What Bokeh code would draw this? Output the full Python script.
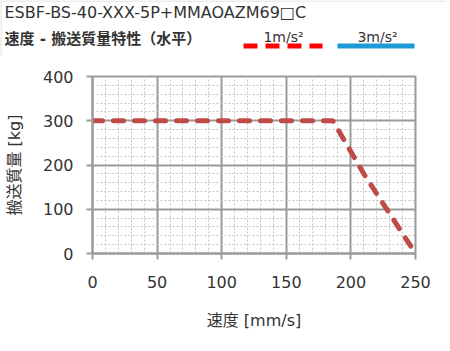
from bokeh.plotting import figure
from bokeh.layouts import column
from bokeh.models import Range1d, SingleIntervalTicker
from bokeh.core.properties import value
from bokeh.embed import file_html
from bokeh.resources import INLINE

speed = [0, 186, 210, 250]
mass_1 = [300, 300, 180, 0]

model = "ESBF-BS-40-XXX-5P+MMAOAZM69□C"
subtitle = "速度 - 搬送質量特性（水平）"
legend_1 = "1m/s²"
legend_3 = "3m/s²"
x_label = "速度 [mm/s]"
y_label = "搬送質量 [kg]"

FONT = "'DejaVu Sans', 'Noto Sans CJK JP', sans-serif"
TXT = "#333333"
GRID = "#9a9a9a"
TOP_H = 56

# ---- header (titles + legend) ----
h = figure(width=450, height=TOP_H, output_backend="svg", toolbar_location=None,
           x_range=Range1d(0, 450), y_range=Range1d(TOP_H, 0),
           x_axis_type=None, y_axis_type=None, min_border=0,
           min_border_left=0, min_border_right=0, min_border_top=0,
           min_border_bottom=0, frame_align=False,
           background_fill_color="white", border_fill_color="white")
h.grid.visible = False
h.outline_line_color = None

h.line([0, 446], [0.5, 0.5], line_color="#d9d9d9", line_width=1)
h.line([0.5, 0.5], [0, TOP_H], line_color="#d9d9d9", line_width=1)
h.text(x=[4], y=[12], text=[model], text_font=value(FONT), text_font_size="16px",
       text_color=TXT, text_baseline="middle")
h.text(x=[4], y=[38], text=[subtitle], text_font=value(FONT), text_font_size="15px",
       text_font_style="bold", text_color=TXT, text_baseline="middle")
h.text(x=[283, 377], y=[36, 36], text=[legend_1, legend_3], text_font=value(FONT),
       text_font_size="14px", text_color=TXT, text_baseline="middle",
       text_align="center")
h.line([243, 322], [45.5, 45.5], line_color="#ff0000", line_width=5,
       line_dash="14 8", line_cap="butt")
h.line([337, 414], [45.5, 45.5], line_color="#1e9bd7", line_width=5)

# ---- main chart ----
p = figure(width=450, height=351 - TOP_H, output_backend="svg", toolbar_location=None,
           x_range=Range1d(0, 250), y_range=Range1d(0, 400),
           min_border_left=92, min_border_right=35, min_border_top=76 - TOP_H,
           min_border_bottom=98, frame_align=False,
           background_fill_color="white", border_fill_color="white")

p.xaxis.ticker = SingleIntervalTicker(interval=50, num_minor_ticks=5)
p.yaxis.ticker = SingleIntervalTicker(interval=100, num_minor_ticks=5)
p.xgrid.ticker = p.xaxis.ticker
p.ygrid.ticker = p.yaxis.ticker

for g in (p.xgrid, p.ygrid):
    g.grid_line_color = GRID
    g.grid_line_width = 2
    g.minor_grid_line_color = "#c4c4c4"
    g.minor_grid_line_width = 1
    g.minor_grid_line_dash = "2 2"

for ax in (p.xaxis, p.yaxis):
    ax.axis_line_color = GRID
    ax.axis_line_width = 2
    ax.major_tick_line_color = GRID
    ax.major_tick_line_width = 2
    ax.major_tick_out = 6
    ax.major_tick_in = 0
    ax.minor_tick_line_color = None
    ax.major_label_text_font = FONT
    ax.major_label_text_font_size = "16px"
    ax.major_label_text_color = TXT
    ax.axis_label_text_font = FONT
    ax.axis_label_text_font_size = "16px"
    ax.axis_label_text_font_style = "normal"
    ax.axis_label_text_color = TXT

p.xaxis.major_label_standoff = 16
p.yaxis.major_label_standoff = 13
p.xaxis.axis_label = x_label
p.yaxis.axis_label = y_label
p.xaxis.axis_label_standoff = 20
p.yaxis.axis_label_standoff = 16

p.outline_line_color = GRID
p.outline_line_width = 2

p.line(speed, mass_1, line_color="#be4b48", line_width=5, line_dash="10 11",
       line_cap="round")

layout = column(h, p, spacing=0)
open("out.html", "w").write(file_html(layout, INLINE))
